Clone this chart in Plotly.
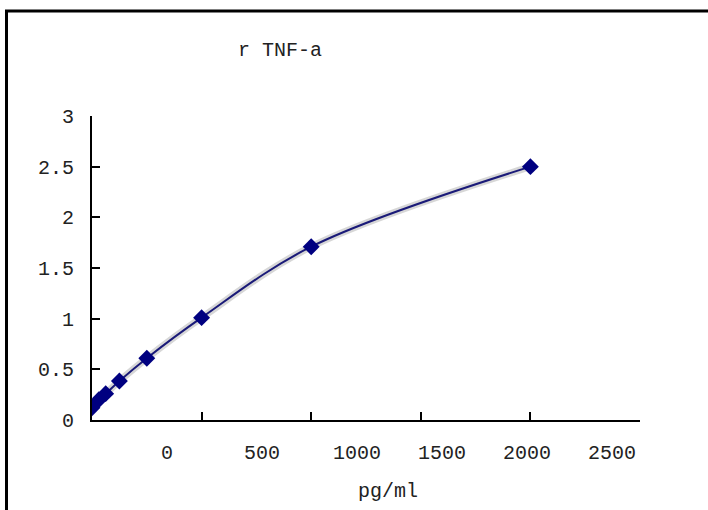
import plotly.graph_objects as go

# Data (standard curve)
conc = [0, 31.25, 62.5, 125, 250, 500, 1000, 2000]          # pg/ml
od = [0.12, 0.20, 0.26, 0.385, 0.61, 1.01, 1.71, 2.50]

x_tick_labels = ["0", "500", "1000", "1500", "2000", "2500"]
y_tick_vals = [0, 0.5, 1, 1.5, 2, 2.5, 3]
y_tick_labels = ["0", "0.5", "1", "1.5", "2", "2.5", "3"]
title_text = "r TNF-a"
x_title = "pg/ml"

# Layout constants (pixels)
W, H = 708, 510
L, R, T, B = 92, 68, 116, 90
PW, PH = W - L - R, H - T - B
# pixel positions where the x tick labels are printed in the reference
x_label_px = [167, 262, 357, 442, 527, 612]

def px(xp):
    return (xp - L) / PW

def py(yp):
    return (H - B - yp) / PH

FONT = "Liberation Mono"
NAVY = "#000080"

fig = go.Figure()
fig.add_trace(go.Scatter(
    x=conc, y=od, mode="lines", line=dict(color="rgba(140,140,140,0.35)", width=7, shape="spline"),
    hoverinfo="skip", showlegend=False))
fig.add_trace(go.Scatter(
    x=conc, y=od, mode="lines+markers",
    line=dict(color="#1a1a78", width=2, shape="spline"),
    marker=dict(symbol="diamond", size=13, color=NAVY),
    showlegend=False))
fig.add_trace(go.Scatter(x=[L], y=[0], xaxis="x2", mode="markers",
                         marker=dict(opacity=0), hoverinfo="skip", showlegend=False))

fig.update_layout(
    width=W, height=H,
    margin=dict(l=L, r=R, t=T, b=B),
    paper_bgcolor="white", plot_bgcolor="white",
    font=dict(family=FONT, size=20, color="#222"),
    xaxis=dict(range=[0, 2500], tickvals=[0, 500, 1000, 1500, 2000, 2500],
               showticklabels=False, ticks="inside", ticklen=8, tickwidth=2, tickcolor="black",
               showline=True, linecolor="black", linewidth=2, showgrid=False, zeroline=False,
               fixedrange=True),
    xaxis2=dict(overlaying="x", anchor="y", side="bottom", range=[L, L + PW],
                tickvals=x_label_px, ticktext=x_tick_labels, ticks="", showline=False,
                showgrid=False, zeroline=False, ticklabelstandoff=18,
                tickfont=dict(family=FONT, size=20, color="#222")),
    yaxis=dict(range=[0, 3], tickvals=y_tick_vals, ticktext=y_tick_labels,
               ticks="inside", ticklen=8, tickwidth=2, tickcolor="black",
               showline=True, linecolor="black", linewidth=2, showgrid=False, zeroline=False,
               ticklabelstandoff=12, tickfont=dict(family=FONT, size=20, color="#222")),
    annotations=[
        dict(text=title_text, x=px(280), y=py(50), xref="paper", yref="paper",
             showarrow=False, xanchor="center", yanchor="middle",
             font=dict(family=FONT, size=20, color="#222")),
        dict(text=x_title, x=px(388), y=py(491), xref="paper", yref="paper",
             showarrow=False, xanchor="center", yanchor="middle",
             font=dict(family=FONT, size=20, color="#222")),
    ],
    shapes=[dict(type="rect", xref="paper", yref="paper",
                 x0=px(6.5), x1=px(W + 10), y0=py(H + 10), y1=py(11),
                 line=dict(color="black", width=3))],
)

fig.write_html("out.html", config={"displayModeBar": False},
               post_script="document.body.style.margin='0';document.body.style.overflow='hidden';")
